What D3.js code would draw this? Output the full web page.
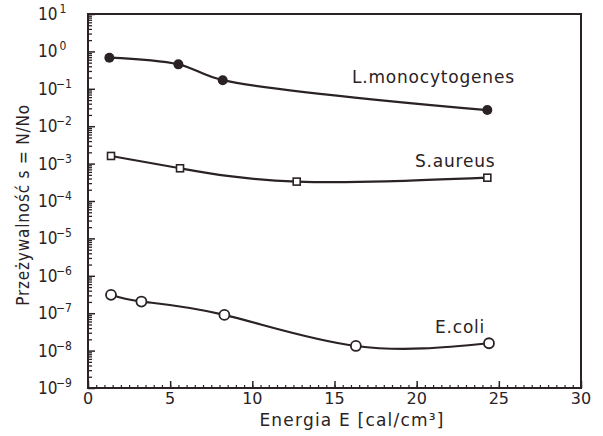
<!DOCTYPE html>
<html><head><meta charset="utf-8">
<script src="https://cdn.jsdelivr.net/npm/d3@7"></script>
<style>
body{margin:0;background:#fff}
text{font-family:"DejaVu Sans",sans-serif;fill:#2a2224}
.cond{font-family:"DejaVu Sans Condensed","DejaVu Sans",sans-serif;font-stretch:condensed}
</style></head>
<body><svg id="c" width="603" height="436"></svg>
<script>
const energyListeria = [1.3, 5.5, 8.2, 24.3];
const survListeria = [0.68, 0.45, 0.17, 0.027];
const energyAureus = [1.4, 5.6, 12.7, 24.3];
const survAureus = [1.6e-3, 7.5e-4, 3.3e-4, 4.2e-4];
const energyColi = [1.4, 3.25, 8.3, 16.3, 24.4];
const survColi = [3.1e-7, 2.05e-7, 9.0e-8, 1.33e-8, 1.57e-8];
const seriesNames = ["L.monocytogenes", "S.aureus", "E.coli"];
const xTicks = [0, 5, 10, 15, 20, 25, 30];
const yExponents = [1, 0, -1, -2, -3, -4, -5, -6, -7, -8, -9];
const xTitle = "Energia E [cal/cm³]";
const yTitle = "Przeżywalność  s = N/No";

const svg = d3.select("#c");
const ink = "#2a2224";
const L = 88, R = 581, T = 14, B = 388;
const x = d3.scaleLinear().domain([0, 30]).range([L, R]);
const y = d3.scaleLog().domain([1e-9, 10]).range([B, T]);

// minor ticks
const xMinor = d3.range(0, 30.01, 0.5);
svg.append("g").attr("transform", `translate(0,${B})`)
  .call(d3.axisBottom(x).tickValues(xMinor).tickSize(-3).tickSizeOuter(0).tickFormat(""))
  .call(g => g.select(".domain").remove())
  .call(g => g.selectAll("line").attr("stroke", ink).attr("stroke-width", 1.2));
svg.append("g").attr("transform", `translate(0,${B})`)
  .call(d3.axisBottom(x).tickValues(xTicks).tickSize(-7).tickSizeOuter(0).tickFormat(""))
  .call(g => g.select(".domain").remove())
  .call(g => g.selectAll("line").attr("stroke", ink).attr("stroke-width", 1.5));
const yMinor = [];
yExponents.forEach(e => { if (e > -9) for (let k = 2; k <= 9; k++) yMinor.push(k * Math.pow(10, e - 1)); });
svg.append("g").attr("transform", `translate(${L},0)`)
  .call(d3.axisLeft(y).tickValues(yMinor).tickSize(-4).tickSizeOuter(0).tickFormat(""))
  .call(g => g.select(".domain").remove())
  .call(g => g.selectAll("line").attr("stroke", ink).attr("stroke-width", 1.3));
svg.append("g").attr("transform", `translate(${L},0)`)
  .call(d3.axisLeft(y).tickValues(yExponents.map(e => Math.pow(10, e))).tickSize(-7).tickSizeOuter(0).tickFormat(""))
  .call(g => g.select(".domain").remove())
  .call(g => g.selectAll("line").attr("stroke", ink).attr("stroke-width", 1.5));

// frame
svg.append("rect").attr("x", L).attr("y", T).attr("width", R - L).attr("height", B - T)
  .attr("fill", "none").attr("stroke", ink).attr("stroke-width", 2);

// tick labels
svg.append("g").selectAll("text").data(xTicks).join("text")
  .attr("x", d => x(d)).attr("y", 404).attr("text-anchor", "middle")
  .attr("font-size", 16).text(d => d);
const yl = svg.append("g").selectAll("text").data(yExponents).join("text")
  .attr("class", "cond")
  .attr("x", 38).attr("y", d => y(Math.pow(10, d)) + 6).attr("text-anchor", "start")
  .attr("font-size", 17);
yl.append("tspan").text("10");
yl.append("tspan").attr("dy", -7).attr("x", 56).attr("font-size", 12)
  .text(d => d < 0 ? "−" + (-d) : " " + d);

// titles
svg.append("text").attr("x", 352).attr("y", 426).attr("text-anchor", "middle")
  .attr("font-size", 17).attr("letter-spacing", 1.2).text(xTitle);
svg.append("text").attr("class", "cond").attr("transform", "translate(29,205) rotate(-90)").attr("text-anchor", "middle")
  .attr("font-size", 17).attr("letter-spacing", 0.8).text(yTitle);

// series
const series = [
  {xs: energyListeria, ys: survListeria, marker: "dot", curve: d3.curveCatmullRom.alpha(0.5), lx: 352, ly: 83},
  {xs: energyAureus, ys: survAureus, marker: "square", curve: d3.curveNatural, lx: 415, ly: 167},
  {xs: energyColi, ys: survColi, marker: "circle", curve: d3.curveNatural, lx: 435, ly: 333}
];
series.forEach((s, i) => {
  const pts = s.xs.map((v, j) => [v, s.ys[j]]);
  const line = d3.line().x(d => x(d[0])).y(d => y(d[1])).curve(s.curve);
  svg.append("path").attr("d", line(pts)).attr("fill", "none").attr("stroke", ink).attr("stroke-width", 2.2);
  const g = svg.append("g");
  if (s.marker === "dot") {
    g.selectAll("circle").data(pts).join("circle").attr("cx", d => x(d[0])).attr("cy", d => y(d[1]))
      .attr("r", 5).attr("fill", ink);
  } else if (s.marker === "circle") {
    g.selectAll("circle").data(pts).join("circle").attr("cx", d => x(d[0])).attr("cy", d => y(d[1]))
      .attr("r", 5).attr("fill", "#fff").attr("stroke", ink).attr("stroke-width", 1.8);
  } else {
    g.selectAll("rect").data(pts).join("rect").attr("x", d => x(d[0]) - 3.5).attr("y", d => y(d[1]) - 3.5)
      .attr("width", 7).attr("height", 7).attr("fill", "#fff").attr("stroke", ink).attr("stroke-width", 1.6);
  }
  svg.append("text").attr("x", s.lx).attr("y", s.ly).attr("font-size", 17).attr("letter-spacing", 0.8)
    .text(seriesNames[i]);
});
</script></body></html>
